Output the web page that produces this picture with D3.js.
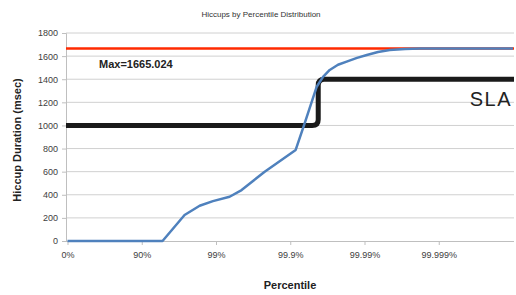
<!DOCTYPE html>
<html>
<head>
<meta charset="utf-8">
<script src="https://cdn.jsdelivr.net/npm/d3@7"></script>
<style>
body { margin: 0; background: #fff; }
svg { display: block; font-family: "Liberation Sans", Arial, sans-serif; }
</style>
</head>
<body>
<svg id="chart"></svg>
<script>
// percentile (%) and hiccup duration (msec)
var percentiles = [0, 94.75, 97.35, 98.34, 98.9, 99.344, 99.548, 99.779, 99.9155, 99.936, 99.956, 99.9638, 99.9706, 99.97725, 99.9826, 99.98738, 99.9907, 99.993423, 99.99543, 99.99715, 99.9982, 99.9999];
var hiccups     = [0, 0, 225, 305, 345, 383, 441, 600, 788, 1018, 1335, 1420, 1480, 1525, 1552, 1585, 1610, 1635, 1653, 1661, 1665, 1665];

var tickPercentiles = [0, 90, 99, 99.9, 99.99, 99.999];
var tickLabels = ["0%", "90%", "99%", "99.9%", "99.99%", "99.999%"];
var yTicks = [0, 200, 400, 600, 800, 1000, 1200, 1400, 1600, 1800];

var maxHiccup = 1665.024;
var slaLevels = [1000, 1400];
var slaStepPercentile = 99.958;

var width = 516, height = 295;
var svg = d3.select("#chart").attr("width", width).attr("height", height);

// percentile -> number of nines
function nines(p) { return p >= 100 ? 6 : -Math.log10(1 - p / 100); }

var x = d3.scaleLinear().domain([0, 6]).range([67.5, 513]);
var y = d3.scaleLinear().domain([0, 1800]).range([241, 33]);
var left = 66, right = 514;

// grid
svg.append("g").selectAll("line")
  .data(yTicks.slice(1))
  .enter().append("line")
  .attr("x1", left).attr("x2", right)
  .attr("y1", function(d) { return y(d); })
  .attr("y2", function(d) { return y(d); })
  .attr("stroke", "#d0d0d0").attr("stroke-width", 1);

// y axis
var yAxis = svg.append("g").attr("transform", "translate(" + left + ",0)")
  .call(d3.axisLeft(y).tickValues(yTicks).tickFormat(d3.format("d")).tickSize(4).tickPadding(4));
yAxis.select(".domain").attr("stroke", "#bfbfbf");
yAxis.selectAll(".tick line").attr("stroke", "#bfbfbf");
yAxis.selectAll("text").attr("font-size", 9).attr("fill", "#404040");

// x axis
var xAxis = svg.append("g").attr("transform", "translate(0," + y(0) + ")")
  .call(d3.axisBottom(x).tickValues(tickPercentiles.map(nines))
    .tickFormat(function(d, i) { return tickLabels[i]; }).tickSize(4).tickPadding(7));
xAxis.select(".domain").attr("d", "M" + left + ",0.5H" + right).attr("stroke", "#bfbfbf");
xAxis.selectAll(".tick line").attr("stroke", "#bfbfbf");
xAxis.selectAll("text").attr("font-size", 9).attr("fill", "#404040");

// max line
svg.append("line")
  .attr("x1", left).attr("x2", right)
  .attr("y1", y(maxHiccup)).attr("y2", y(maxHiccup))
  .attr("stroke", "#ff2a00").attr("stroke-width", 2.5);

// SLA step with rounded corners
var xs = x(nines(slaStepPercentile)), y0 = y(slaLevels[0]), y1 = y(slaLevels[1]), r = 6;
var sla = d3.path();
sla.moveTo(left, y0);
sla.lineTo(xs - r, y0);
sla.quadraticCurveTo(xs, y0, xs, y0 - r);
sla.lineTo(xs, y1 + r);
sla.quadraticCurveTo(xs, y1, xs + r, y1);
sla.lineTo(right, y1);
svg.append("path").attr("d", sla.toString())
  .attr("fill", "none").attr("stroke", "#1a1a1a").attr("stroke-width", 5);

// hiccup curve
var line = d3.line()
  .x(function(d, i) { return x(nines(percentiles[i])); })
  .y(function(d) { return y(d); })
  .curve(d3.curveLinear);
svg.append("path").datum(hiccups)
  .attr("d", line)
  .attr("fill", "none").attr("stroke", "#4f81bd").attr("stroke-width", 2.5)
  .attr("stroke-linejoin", "round");

// texts
svg.append("text").attr("x", 261).attr("y", 17).attr("text-anchor", "middle")
  .attr("font-size", 8).attr("fill", "#333").text("Hiccups by Percentile Distribution");

svg.append("text").attr("x", 99).attr("y", 68)
  .attr("font-size", 11).attr("font-weight", "bold").attr("fill", "#222").text("Max=" + maxHiccup);

svg.append("text").attr("x", 512).attr("y", 106).attr("text-anchor", "end")
  .attr("font-size", 20).attr("letter-spacing", 1.5).attr("fill", "#222").text("SLA");

svg.append("text").attr("x", 290).attr("y", 289).attr("text-anchor", "middle")
  .attr("font-size", 11).attr("font-weight", "bold").attr("fill", "#222").text("Percentile");

svg.append("text").attr("transform", "translate(21,140) rotate(-90)").attr("text-anchor", "middle")
  .attr("font-size", 11).attr("font-weight", "bold").attr("fill", "#222").text("Hiccup Duration (msec)");
</script>
</body>
</html>
